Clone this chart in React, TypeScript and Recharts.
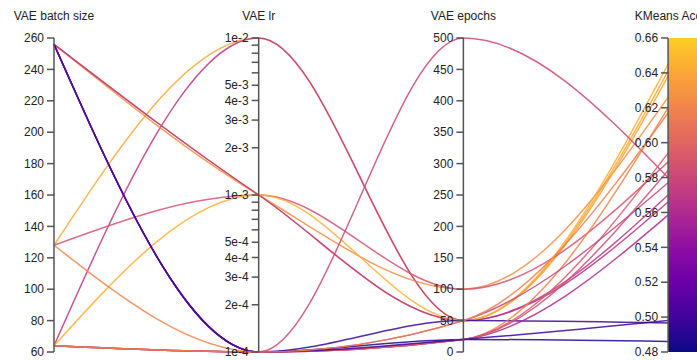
import React from 'react'
import {LineChart, Line, XAxis, YAxis, ReferenceLine, ReferenceDot, ReferenceArea} from 'recharts'

// one entry per run
const batchSize = [128, 64, 256, 256, 256, 128, 64, 256, 256, 256, 128, 64, 64, 64, 64, 256, 64]
const vaeLr = [1e-2, 1e-2, 1e-3, 1e-3, 1e-3, 1e-3, 1e-3, 1e-4, 1e-4, 1e-4, 1e-4, 1e-4, 1e-4, 1e-4, 1e-4, 1e-4, 1e-4]
const vaeEpochs = [50, 50, 100, 50, 50, 100, 50, 50, 20, 20, 20, 500, 20, 20, 50, 20, 50]
const kmeansAcc = [0.641, 0.57, 0.626, 0.638, 0.566, 0.589, 0.645, 0.4966, 0.486, 0.5585, 0.62, 0.58, 0.584, 0.594, 0.577, 0.498, 0.617]

const dimNames = ['VAE batch size', 'VAE lr', 'VAE epochs', 'KMeans Acc']
const batchTicks = [60, 80, 100, 120, 140, 160, 180, 200, 220, 240, 260]
const lrTicks = [1e-4, 2e-4, 3e-4, 4e-4, 5e-4, 6e-4, 7e-4, 8e-4, 9e-4, 1e-3, 2e-3, 3e-3, 4e-3, 5e-3, 6e-3, 7e-3, 8e-3, 9e-3, 1e-2]
const lrLabels = ['1e-4', '2e-4', '3e-4', '4e-4', '5e-4', '', '', '', '', '1e-3', '2e-3', '3e-3', '4e-3', '5e-3', '', '', '', '', '1e-2']
const epochTicks = [0, 50, 100, 150, 200, 250, 300, 350, 400, 450, 500]
const accTicks = [0.48, 0.5, 0.52, 0.54, 0.56, 0.58, 0.6, 0.62, 0.64, 0.66]

const clamp = (v: number) => Math.max(0, Math.min(1, v))
const nBatch = (v: number) => clamp((v - 60) / 200)
const nLr = (v: number) => clamp((Math.log10(v) + 4) / 2)
const nEpoch = (v: number) => clamp(v / 500)
const nAcc = (v: number) => clamp((v - 0.48) / 0.18)

const plasma = ['#0d0887', '#41049d', '#6a00a8', '#8f0da4', '#b12a90', '#cc4778', '#e16462', '#f2844b', '#fca636', '#fcce25']

const hex = (c: string) => [1, 3, 5].map(i => parseInt(c.slice(i, i + 2), 16))
const colorFor = (acc: number) => {
  const t = nAcc(acc) * (plasma.length - 1)
  const i = Math.min(Math.floor(t), plasma.length - 2)
  const f = t - i
  const a = hex(plasma[i]), b = hex(plasma[i + 1])
  const m = a.map((v, k) => Math.round(v + (b[k] - v) * f))
  return `rgb(${m[0]},${m[1]},${m[2]})`
}

const runs = batchSize.map((b, i) => [
  {x: 0, y: nBatch(b)},
  {x: 1, y: nLr(vaeLr[i])},
  {x: 2, y: nEpoch(vaeEpochs[i])},
  {x: 3, y: nAcc(kmeansAcc[i])},
])

const axisTicks = [
  ...batchTicks.map(v => ({x: 0, y: nBatch(v), label: String(v)})),
  ...lrTicks.map((v, i) => ({x: 1, y: nLr(v), label: lrLabels[i]})),
  ...epochTicks.map(v => ({x: 2, y: nEpoch(v), label: String(v)})),
  ...accTicks.map(v => ({x: 3, y: nAcc(v), label: v.toFixed(2)})),
]

const font = 'Liberation Sans, Arial, Helvetica, sans-serif'

const TickMark = (label: string) => (props: any) => (
  <g>
    <line x1={props.cx - 7} y1={props.cy} x2={props.cx} y2={props.cy} stroke="#555" strokeWidth={1.5} />
    {label && (
      <text x={props.cx - 10} y={props.cy} dy="0.35em" textAnchor="end" fontSize={12} fill="#222" fontFamily={font}>
        {label}
      </text>
    )}
  </g>
)

const ColorBar = (props: any) => (
  <g>
    <defs>
      <linearGradient id="plasmaBar" x1="0" y1="1" x2="0" y2="0">
        {plasma.map((c, i) => (
          <stop key={c} offset={i / (plasma.length - 1)} stopColor={c} />
        ))}
      </linearGradient>
    </defs>
    <rect x={props.x} y={props.y} width={props.width} height={props.height} fill="url(#plasmaBar)" />
  </g>
)

const App = () => {
  return (
    <div style={{position: 'absolute', left: 0, top: 0, width: 697, height: 360, overflow: 'hidden', background: '#fff'}}>
      <LineChart width={714} height={360} margin={{top: 8, right: 5, bottom: 8, left: 54}}>
        <XAxis
          type="number"
          dataKey="x"
          orientation="top"
          domain={[0, 3.2]}
          ticks={[0, 1, 2, 3]}
          tickFormatter={(v: number) => dimNames[v]}
          axisLine={false}
          tickLine={false}
          tickSize={0}
          tickMargin={18}
          height={30}
          interval={0}
          tick={{fontSize: 12, fill: '#222', fontFamily: font}}
        />
        <YAxis type="number" domain={[0, 1]} hide />
        <ReferenceArea x1={3} x2={3.17} y1={0} y2={1} shape={ColorBar} />
        {runs.map((r, i) => (
          <Line
            key={i}
            data={r}
            dataKey="y"
            type="monotone"
            stroke={colorFor(kmeansAcc[i])}
            strokeWidth={1.5}
            strokeOpacity={0.85}
            dot={false}
            isAnimationActive={false}
          />
        ))}
        {[0, 1, 2, 3].map(x => (
          <ReferenceLine key={'ax' + x} x={x} stroke="#555" strokeWidth={1.5} />
        ))}
        {axisTicks.map((t, i) => (
          <ReferenceDot key={'t' + i} x={t.x} y={t.y} r={0} ifOverflow="visible" shape={TickMark(t.label)} />
        ))}
      </LineChart>
    </div>
  )
}

export default App
